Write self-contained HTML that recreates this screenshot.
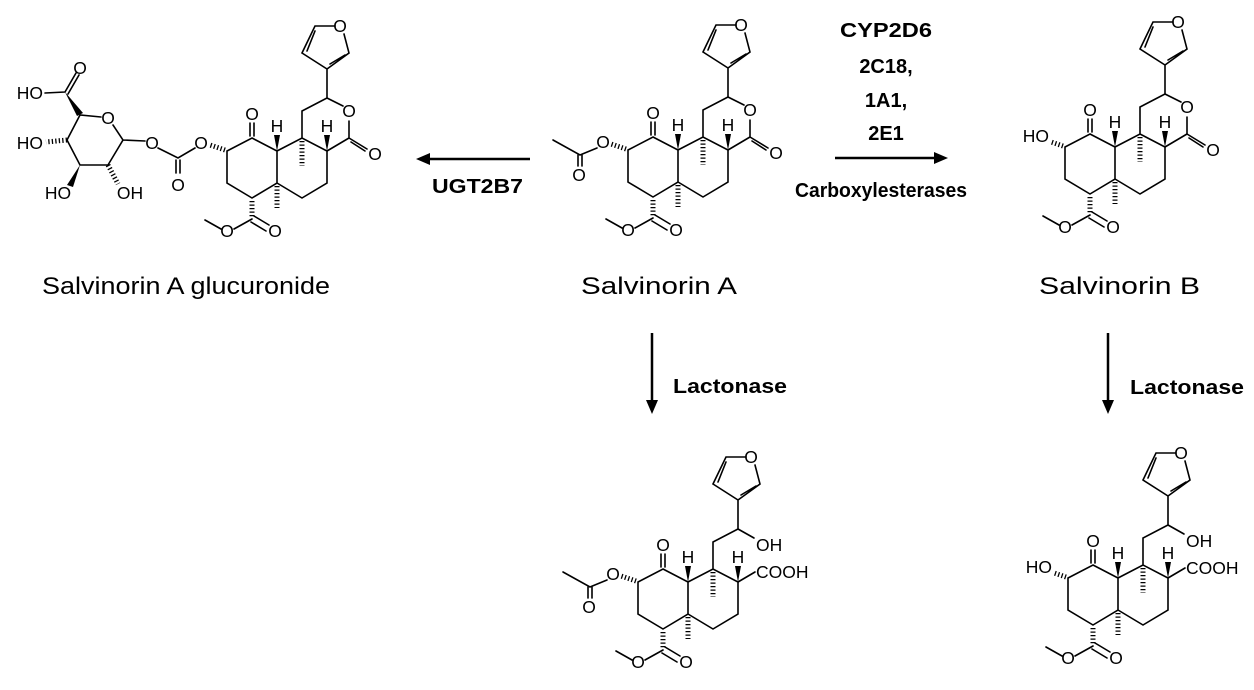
<!DOCTYPE html>
<html><head><meta charset="utf-8"><style>
html,body{margin:0;padding:0;background:#fff;}
svg{display:block;}
.b{fill:none;stroke:#000;stroke-width:1.6;stroke-linecap:round;}
.h{fill:none;stroke:#000;stroke-width:5;stroke-dasharray:1.3 2.2;}
.a{font-family:"Liberation Sans",sans-serif;font-size:17.5px;fill:#000;}
.e{font-family:"Liberation Sans",sans-serif;font-size:20px;font-weight:bold;fill:#000;}
.n{font-family:"Liberation Sans",sans-serif;font-size:24px;fill:#000;}
</style></head><body>
<svg width="1254" height="690" viewBox="0 0 1254 690" xmlns="http://www.w3.org/2000/svg">

<!-- Salvinorin A -->
<g>
<path class="b" d="M653,137 L678,150 L678,182 L653,197 L628,182 L628,150 Z M678,150 L703,137 L728,150 L728,182 L703,197 L678,182 M703,137 L703,110 L728,97 L728,68 L750,52 L745,33 M736,25 L716,25 L703,52 L728,68 M708,50 L716,30 M731,63 L746,54 M651,135 L651,122 M655,135 L655,122 M653,218 L635,228 M622,228 L606,219 M655,215 L670,224 M652,221 L667,230"/>
<path class="h" d="M653,200 L653,217 M678,185 L678,207 M703,140 L703,165 M626,149 L611,144"/>
<polygon points="678,150 675,134 681,134"/><polygon points="728,150 725,134 731,134"/>
<text class="a" x="741" y="31" text-anchor="middle">O</text>
<text class="a" x="653" y="119" text-anchor="middle">O</text>
<text class="a" x="678" y="131" text-anchor="middle">H</text>
<text class="a" x="728" y="131" text-anchor="middle">H</text>
<text class="a" x="628" y="236" text-anchor="middle">O</text>
<text class="a" x="676" y="236" text-anchor="middle">O</text>
<path class="b" d="M728,150 L750,137 L750,120 M744,105 L728,97 M750,137 L768,148 M752,141 L766,150"/>
<text class="a" x="750" y="116" text-anchor="middle">O</text>
<text class="a" x="776" y="159" text-anchor="middle">O</text>
<path class="b" d="M597,148 L580,155 L553,140 M578,155 L578,166 M582,155 L582,166"/>
<text class="a" x="603" y="148" text-anchor="middle">O</text>
<text class="a" x="579" y="181" text-anchor="middle">O</text>
</g>

<!-- Salvinorin B -->
<g transform="translate(437,-3)">
<path class="b" d="M653,137 L678,150 L678,182 L653,197 L628,182 L628,150 Z M678,150 L703,137 L728,150 L728,182 L703,197 L678,182 M703,137 L703,110 L728,97 L728,68 L750,52 L745,33 M736,25 L716,25 L703,52 L728,68 M708,50 L716,30 M731,63 L746,54 M651,135 L651,122 M655,135 L655,122 M653,218 L635,228 M622,228 L606,219 M655,215 L670,224 M652,221 L667,230"/>
<path class="h" d="M653,200 L653,217 M678,185 L678,207 M703,140 L703,165 M626,149 L614,145"/>
<polygon points="678,150 675,134 681,134"/><polygon points="728,150 725,134 731,134"/>
<text class="a" x="741" y="31" text-anchor="middle">O</text>
<text class="a" x="653" y="119" text-anchor="middle">O</text>
<text class="a" x="678" y="131" text-anchor="middle">H</text>
<text class="a" x="728" y="131" text-anchor="middle">H</text>
<text class="a" x="628" y="236" text-anchor="middle">O</text>
<text class="a" x="676" y="236" text-anchor="middle">O</text>
<path class="b" d="M728,150 L750,137 L750,120 M744,105 L728,97 M750,137 L768,148 M752,141 L766,150"/>
<text class="a" x="750" y="116" text-anchor="middle">O</text>
<text class="a" x="776" y="159" text-anchor="middle">O</text>
<text class="a" x="612" y="145" text-anchor="end">HO</text>
</g>

<!-- Glucuronide core -->
<g transform="translate(-401,1)">
<path class="b" d="M653,137 L678,150 L678,182 L653,197 L628,182 L628,150 Z M678,150 L703,137 L728,150 L728,182 L703,197 L678,182 M703,137 L703,110 L728,97 L728,68 L750,52 L745,33 M736,25 L716,25 L703,52 L728,68 M708,50 L716,30 M731,63 L746,54 M651,135 L651,122 M655,135 L655,122 M653,218 L635,228 M622,228 L606,219 M655,215 L670,224 M652,221 L667,230"/>
<path class="h" d="M653,200 L653,217 M678,185 L678,207 M703,140 L703,165 M626,149 L611,144"/>
<polygon points="678,150 675,134 681,134"/><polygon points="728,150 725,134 731,134"/>
<text class="a" x="741" y="31" text-anchor="middle">O</text>
<text class="a" x="653" y="119" text-anchor="middle">O</text>
<text class="a" x="678" y="131" text-anchor="middle">H</text>
<text class="a" x="728" y="131" text-anchor="middle">H</text>
<text class="a" x="628" y="236" text-anchor="middle">O</text>
<text class="a" x="676" y="236" text-anchor="middle">O</text>
<path class="b" d="M728,150 L750,137 L750,120 M744,105 L728,97 M750,137 L768,148 M752,141 L766,150"/>
<text class="a" x="750" y="116" text-anchor="middle">O</text>
<text class="a" x="776" y="159" text-anchor="middle">O</text>
<text class="a" x="602" y="148" text-anchor="middle">O</text>
</g>
<!-- glucuronide sugar -->
<path class="b" d="M113,125 L123,140 L108,165 L80,165 L67,140 L80,115 L101,117 M123,140 L145,141 M158,148 L178,158 L195,148 M176,160 L176,173 M180,160 L180,173 M45,93 L65,92 L76,73 M68,94 L79,75"/>
<polygon points="65,92 77,116 83,113"/>
<polygon points="80,165 67,185 73,187"/>
<path class="h" d="M67,140 L46,142 M108,165 L118,184"/>
<text class="a" x="108" y="124" text-anchor="middle">O</text>
<text class="a" x="80" y="74" text-anchor="middle">O</text>
<text class="a" x="43" y="99" text-anchor="end">HO</text>
<text class="a" x="43" y="149" text-anchor="end">HO</text>
<text class="a" x="58" y="199" text-anchor="middle">HO</text>
<text class="a" x="130" y="199" text-anchor="middle">OH</text>
<text class="a" x="152" y="149" text-anchor="middle">O</text>
<text class="a" x="178" y="191" text-anchor="middle">O</text>

<!-- bottom left (open acid, OAc) -->
<g transform="translate(10,432)">
<path class="b" d="M653,137 L678,150 L678,182 L653,197 L628,182 L628,150 Z M678,150 L703,137 L728,150 L728,182 L703,197 L678,182 M703,137 L703,110 L728,97 L728,68 L750,52 L745,33 M736,25 L716,25 L703,52 L728,68 M708,50 L716,30 M731,63 L746,54 M651,135 L651,122 M655,135 L655,122 M653,218 L635,228 M622,228 L606,219 M655,215 L670,224 M652,221 L667,230"/>
<path class="h" d="M653,200 L653,217 M678,185 L678,207 M703,140 L703,165 M626,149 L611,144"/>
<polygon points="678,150 675,134 681,134"/><polygon points="728,150 725,134 731,134"/>
<text class="a" x="741" y="31" text-anchor="middle">O</text>
<text class="a" x="653" y="119" text-anchor="middle">O</text>
<text class="a" x="678" y="131" text-anchor="middle">H</text>
<text class="a" x="728" y="131" text-anchor="middle">H</text>
<text class="a" x="628" y="236" text-anchor="middle">O</text>
<text class="a" x="676" y="236" text-anchor="middle">O</text>
<path class="b" d="M728,97 L744,106 M728,150 L745,140"/>
<text class="a" x="746" y="119">OH</text>
<text class="a" x="746" y="146">COOH</text>
<path class="b" d="M597,148 L580,155 L553,140 M578,155 L578,166 M582,155 L582,166"/>
<text class="a" x="603" y="148" text-anchor="middle">O</text>
<text class="a" x="579" y="181" text-anchor="middle">O</text>
</g>

<!-- bottom right (open acid, OH) -->
<g transform="translate(440,428)">
<path class="b" d="M653,137 L678,150 L678,182 L653,197 L628,182 L628,150 Z M678,150 L703,137 L728,150 L728,182 L703,197 L678,182 M703,137 L703,110 L728,97 L728,68 L750,52 L745,33 M736,25 L716,25 L703,52 L728,68 M708,50 L716,30 M731,63 L746,54 M651,135 L651,122 M655,135 L655,122 M653,218 L635,228 M622,228 L606,219 M655,215 L670,224 M652,221 L667,230"/>
<path class="h" d="M653,200 L653,217 M678,185 L678,207 M703,140 L703,165 M626,149 L614,145"/>
<polygon points="678,150 675,134 681,134"/><polygon points="728,150 725,134 731,134"/>
<text class="a" x="741" y="31" text-anchor="middle">O</text>
<text class="a" x="653" y="119" text-anchor="middle">O</text>
<text class="a" x="678" y="131" text-anchor="middle">H</text>
<text class="a" x="728" y="131" text-anchor="middle">H</text>
<text class="a" x="628" y="236" text-anchor="middle">O</text>
<text class="a" x="676" y="236" text-anchor="middle">O</text>
<path class="b" d="M728,97 L744,106 M728,150 L745,140"/>
<text class="a" x="746" y="119">OH</text>
<text class="a" x="746" y="146">COOH</text>
<text class="a" x="612" y="145" text-anchor="end">HO</text>
</g>

<!-- arrows -->
<path stroke="#000" stroke-width="2.5" d="M835,158 L936,158 M530,159 L428,159 M652,333 L652,402 M1108,333 L1108,402"/>
<polygon points="948,158 934,152 934,164"/>
<polygon points="416,159 430,153 430,165"/>
<polygon points="652,414 646,400 658,400"/>
<polygon points="1108,414 1102,400 1114,400"/>

<!-- enzyme labels -->
<text class="e" x="886" y="37" text-anchor="middle" textLength="92" lengthAdjust="spacingAndGlyphs">CYP2D6</text>
<text class="e" x="886" y="73" text-anchor="middle">2C18,</text>
<text class="e" x="886" y="107" text-anchor="middle">1A1,</text>
<text class="e" x="886" y="140" text-anchor="middle">2E1</text>
<text class="e" x="795" y="197" textLength="172" lengthAdjust="spacingAndGlyphs">Carboxylesterases</text>
<text class="e" x="432" y="193" textLength="91" lengthAdjust="spacingAndGlyphs">UGT2B7</text>
<text class="e" x="673" y="393" textLength="114" lengthAdjust="spacingAndGlyphs">Lactonase</text>
<text class="e" x="1130" y="394" textLength="114" lengthAdjust="spacingAndGlyphs">Lactonase</text>

<!-- names -->
<text class="n" x="42" y="294" textLength="288" lengthAdjust="spacingAndGlyphs">Salvinorin A glucuronide</text>
<text class="n" x="581" y="294" textLength="156" lengthAdjust="spacingAndGlyphs">Salvinorin A</text>
<text class="n" x="1039" y="294" textLength="161" lengthAdjust="spacingAndGlyphs">Salvinorin B</text>
</svg>
</body></html>
